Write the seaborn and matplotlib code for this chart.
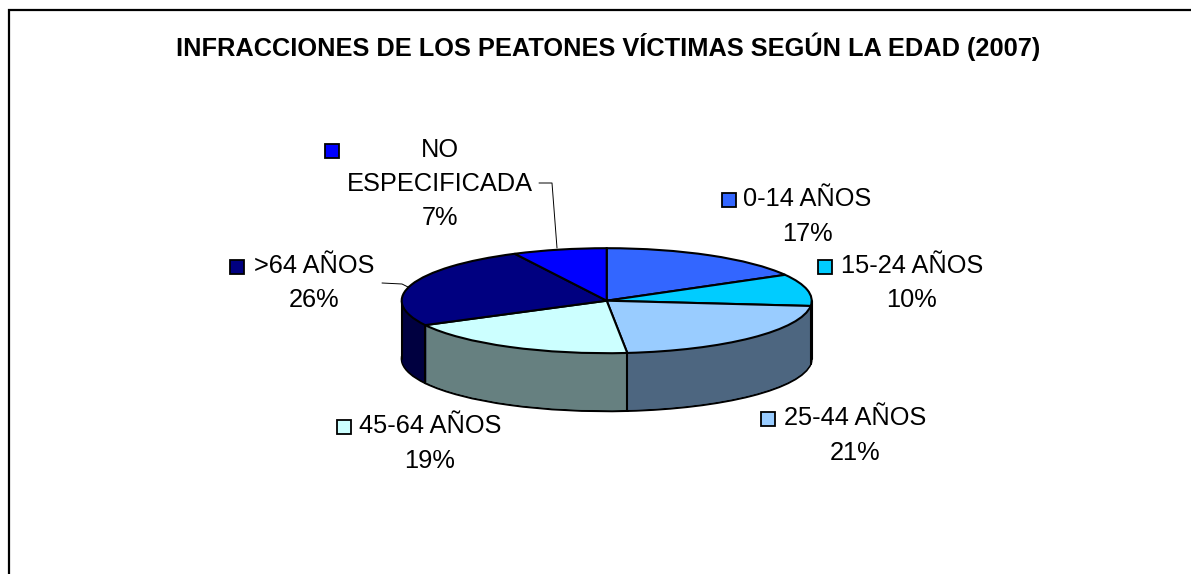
import numpy as np
import matplotlib
matplotlib.use("Agg")
import matplotlib.pyplot as plt
from matplotlib.patches import Rectangle
from matplotlib.lines import Line2D
import seaborn as sns

W, H = 1191, 574

categories = ["0-14 AÑOS", "15-24 AÑOS", "25-44 AÑOS", "45-64 AÑOS", ">64 AÑOS", "NO\nESPECIFICADA"]
percent_labels = [17, 10, 21, 19, 26, 7]
# slice sizes as measured on the picture, they differ a bit from the printed percents
slice_shares = [16.8, 9.8, 21.8, 18.9, 25.3, 7.4]
top_colors = ["#3366FF", "#00CCFF", "#99CCFF", "#CCFFFF", "#000080", "#0000FF"]
title = "INFRACCIONES DE LOS PEATONES VÍCTIMAS SEGÚN LA EDAD (2007)"

# label centre (px), legend key centre (px)
label_xy = [(807, 216.5), (912, 283), (855, 435.5), (430, 443.5), (314, 283), (440, 184)]
key_xy = [(729, 200), (825, 267), (768, 419), (344, 427), (237, 267), (332, 151)]
# leader lines in px
leaders = [([539, 552, 557], [183, 183, 248]), ([382, 402, 408], [283, 284, 287])]

sns.set_theme(style="white")
plt.rcParams["font.family"] = ["Liberation Sans", "DejaVu Sans"]

palette = sns.color_palette(top_colors)
side_colors = [tuple(c * 0.5 for c in col) for col in palette]

# pie geometry in px
cx, cy, rx, ry, depth = 606.7, 300.7, 205, 52.5, 58
d_units = depth / ry


def fx(x):
    return x / W


def fy(y):
    return 1 - y / H


fig = plt.figure(figsize=(W / 100, H / 100), dpi=100, facecolor="white")

# frame runs off the bottom of the picture
fig.add_artist(Rectangle((fx(8.5), fy(H + 20)), (W + 20 - 8.5) / W, (H + 20 - 10) / H,
                         transform=fig.transFigure, fill=False, edgecolor="black", linewidth=1.6))

ax = fig.add_axes([fx(cx - rx), fy(cy + ry + depth), 2 * rx / W, (2 * ry + depth) / H])

pie_kw = dict(startangle=90, counterclock=False, radius=1)
# bottom with outline, then side layers, then the top face
wedges, _ = ax.pie(slice_shares, colors=side_colors, center=(0, -d_units),
                   wedgeprops=dict(edgecolor="black", linewidth=1.5), **pie_kw)
for off in np.linspace(d_units, 0, int(depth) + 1)[1:-1]:
    ax.pie(slice_shares, colors=side_colors, center=(0, -off),
           wedgeprops=dict(edgecolor="none", linewidth=0), **pie_kw)

# seams on the visible wall, plus both silhouette edges
bounds = np.cumsum(slice_shares)[:-1] / np.sum(slice_shares) * 2 * np.pi
for a in bounds:
    x, y = np.sin(a), np.cos(a)
    if y < 0:
        ax.plot([x, x], [y, y - d_units], color="black", lw=1.5, clip_on=False, zorder=5)
for x in (-1, 1):
    ax.plot([x, x], [0, -d_units], color="black", lw=1.5, clip_on=False, zorder=5)

ax.pie(slice_shares, colors=palette, center=(0, 0),
       wedgeprops=dict(edgecolor="black", linewidth=1.5, zorder=6), **pie_kw)
ax.set_aspect("auto")
ax.set_xlim(-1, 1)
ax.set_ylim(-1 - d_units, 1)
ax.set_axis_off()
for p in ax.patches:
    p.set_clip_on(False)

fig.text(fx(608), fy(47), title, ha="center", va="center", fontsize=18.3, fontweight="bold", color="black")

for name, val, (lx, ly), (kx, ky), col in zip(categories, percent_labels, label_xy, key_xy, palette):
    fig.text(fx(lx), fy(ly), f"{name}\n{val}%", ha="center", va="center", fontsize=18.3,
             color="black", linespacing=1.55, multialignment="center")
    fig.add_artist(Rectangle((fx(kx - 7), fy(ky + 7)), 14 / W, 14 / H, transform=fig.transFigure,
                             facecolor=col, edgecolor="black", linewidth=1.3))

for xs, ys in leaders:
    fig.add_artist(Line2D([fx(v) for v in xs], [fy(v) for v in ys], transform=fig.transFigure,
                          color="black", linewidth=0.7))

fig.savefig("out.png", dpi=100)
